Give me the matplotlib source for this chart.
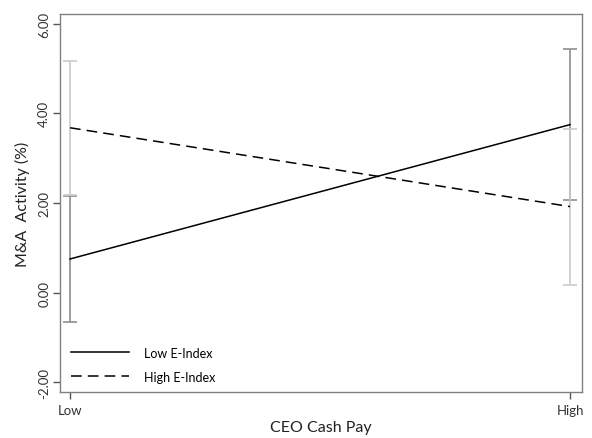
import matplotlib
matplotlib.use("Agg")
import matplotlib.pyplot as plt

plt.rcParams['font.family'] = ['Lato', 'DejaVu Sans']

x_labels = ["Low", "High"]
x_pos = [0, 1]
low_e_mean = [0.75, 3.75]
low_e_err = [1.40, 1.68]
high_e_mean = [3.68, 1.92]
high_e_err = [1.50, 1.74]

fig = plt.figure(figsize=(5.92, 4.39), dpi=100)
ax = fig.add_axes([60/592, 1-393/439, 522/592, 378/439])

dark = "#8e8e8e"
light = "#cbcbcb"
ax.errorbar(x_pos, low_e_mean, yerr=low_e_err, fmt='none', ecolor=dark,
            elinewidth=1.2, capsize=5, capthick=1.2, zorder=2)
ax.errorbar(x_pos, high_e_mean, yerr=high_e_err, fmt='none', ecolor=light,
            elinewidth=1.2, capsize=5, capthick=1.2, zorder=3)
ax.plot(x_pos, low_e_mean, color='black', lw=1.1, zorder=4, label="Low E-Index")
ax.plot(x_pos, high_e_mean, color='black', lw=1.1, ls=(0, (7, 4)), zorder=4, label="High E-Index")

ax.set_xlim(-0.02, 1.024)
ax.set_ylim(-2.22, 6.22)
ax.set_xticks(x_pos)
ax.set_xticklabels(x_labels)
yt = [-2, 0, 2, 4, 6]
ax.set_yticks(yt)
ax.set_yticklabels([f"{v:.2f}" for v in yt], rotation=90, va='center')

for s in ax.spines.values():
    s.set_color("#808080")
    s.set_linewidth(1.0)
ax.tick_params(axis='both', colors="#555555", labelsize=9.5, length=5, width=1,
               labelcolor="#333333")
ax.tick_params(axis='y', pad=2)

ax.set_xlabel("CEO Cash Pay", fontsize=11.5, color="#222222", labelpad=3)
ax.set_ylabel("M&A  Activity (%)", fontsize=11.5, color="#222222", labelpad=6)

leg = ax.legend(loc='lower left', frameon=False, fontsize=9, handlelength=4.6,
                handletextpad=1.2, labelspacing=0.95, bbox_to_anchor=(0.0, -0.005))

fig.savefig("out.png", dpi=100)
